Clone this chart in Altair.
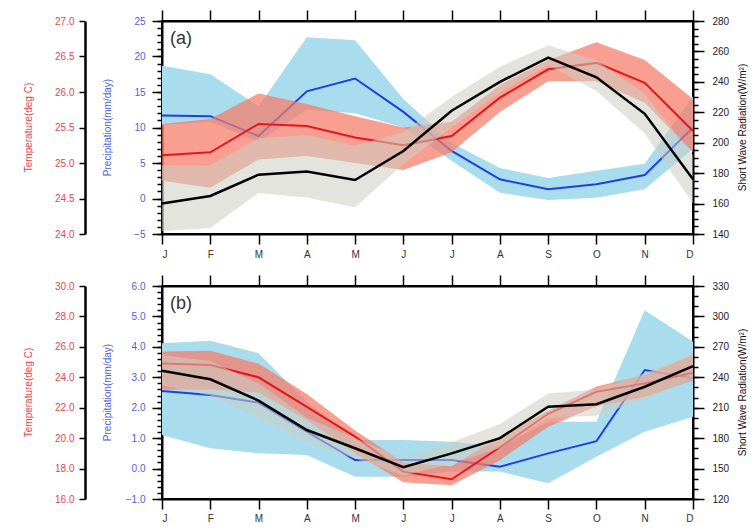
import json
import numpy as np
import pandas as pd
import altair as alt

months = ["Jan", "Feb", "Mar", "Apr", "May", "Jun", "Jul", "Aug", "Sep", "Oct", "Nov", "Dec"]
month_labels = ["J", "F", "M", "A", "M", "J", "J", "A", "S", "O", "N", "D"]

# ---- panel (a) ----
a_precip = [11.7, 11.6, 8.8, 15.1, 16.9, 12.2, 6.7, 2.7, 1.3, 2.0, 3.3, 10.0]
a_precip_hi = [18.7, 17.5, 13.0, 22.7, 22.3, 14.0, 7.8, 4.3, 2.9, 3.9, 4.9, 14.4]
a_precip_lo = [10.3, 10.8, 8.0, 12.5, 12.0, 10.0, 5.3, 0.8, -0.2, 0.1, 1.3, 7.0]
a_temp = [25.11, 25.15, 25.55, 25.52, 25.36, 25.25, 25.38, 25.92, 26.32, 26.41, 26.13, 25.45]
a_temp_hi = [25.55, 25.62, 25.98, 25.83, 25.66, 25.50, 25.58, 26.10, 26.45, 26.70, 26.45, 25.90]
a_temp_lo = [24.75, 24.65, 25.05, 25.10, 25.00, 24.90, 25.15, 25.72, 26.15, 26.15, 25.85, 25.15]
a_sw = [160, 165, 179, 181, 175.5, 194.5, 221, 240, 256, 243, 219, 176]
a_sw_hi = [185, 185, 203, 205, 198, 207, 230, 250, 264, 254, 232, 192]
a_sw_lo = [142, 144, 167, 164, 157.5, 186, 210, 233, 251, 234, 206, 160]

# ---- panel (b) ----
b_precip = [2.55, 2.42, 2.17, 1.21, 0.28, 0.28, 0.28, 0.06, 0.5, 0.9, 3.24, 2.97]
b_precip_hi = [4.12, 4.2, 3.79, 2.2, 0.94, 0.94, 0.88, 0.72, 1.54, 1.54, 5.2, 4.17]
b_precip_lo = [1.1, 0.67, 0.5, 0.45, -0.27, -0.27, -0.1, -0.1, -0.48, 0.39, 1.21, 1.7]
b_temp = [24.9, 24.8, 24.0, 22.06, 20.1, 17.8, 17.3, 19.4, 21.6, 23.05, 23.6, 24.3]
b_temp_hi = [25.7, 25.75, 24.9, 22.9, 20.5, 18.4, 18.15, 20.1, 21.8, 23.4, 24.15, 25.46]
b_temp_lo = [23.2, 23.2, 23.0, 21.2, 19.0, 17.1, 16.9, 18.55, 20.75, 22.1, 22.7, 23.8]
b_sw = [246.5, 238, 217, 188, 170, 151.3, 165, 180, 211, 213.4, 230.7, 251]
b_sw_hi = [262, 256, 234, 200, 180, 160, 176, 194, 224, 228, 244, 264]
b_sw_lo = [232, 222, 200, 176, 160, 143, 155, 170, 200, 202, 218, 238]

FONT = "Liberation Sans"
RED_TXT = "#e2484c"
BLUE_TXT = "#4d5fdc"
label_expr = json.dumps(month_labels) + "[datum.value]"


def steps(lo, hi, step):
    n = int(round((hi - lo) / step))
    return [round(lo + i * step, 4) for i in range(n + 1)]


def make_df(p, phi, plo, t, thi, tlo, s, shi, slo):
    return pd.DataFrame({
        "m": list(range(len(months))), "month": months,
        "precip": p, "precip_hi": phi, "precip_lo": plo,
        "temp": t, "temp_hi": thi, "temp_lo": tlo,
        "sw": s, "sw_hi": shi, "sw_lo": slo,
    })


def panel(df, tag, pr_dom, pr_step, pr_minor, pr_fmt, t_dom, t_step, s_dom, s_step, s_minor, xpad):
    xs = alt.Scale(domain=[0, len(months) - 1], nice=False, zero=False)
    x_bottom = alt.X("m:Q", scale=xs, axis=alt.Axis(
        orient="bottom", values=list(range(len(months))), labelExpr=label_expr,
        tickSize=10, labelPadding=xpad, labelColor="#333333", title=None,
        labelFont=FONT, labelFontSize=10))
    x_top = alt.X("m:Q", scale=xs, axis=alt.Axis(
        orient="top", values=list(range(len(months))), labels=False,
        tickSize=11, title=None))
    x_none = alt.X("m:Q", scale=xs, axis=None)

    base = alt.Chart(df)

    pr_scale = alt.Scale(domain=pr_dom, nice=False, zero=False)
    t_scale = alt.Scale(domain=t_dom, nice=False, zero=False)
    s_scale = alt.Scale(domain=s_dom, nice=False, zero=False)

    blue_band = base.mark_area(color="#a9dcec", opacity=1).encode(
        x=x_bottom,
        y=alt.Y("precip_lo:Q", scale=pr_scale, axis=alt.Axis(
            orient="left", values=steps(pr_dom[0], pr_dom[1], pr_step), format=pr_fmt,
            tickSize=10, labelPadding=7, labelColor=BLUE_TXT,
            title="Precipitation(mm/day)", titleColor=BLUE_TXT,
            titleX=-55, titleY=106, titleBaseline="middle", titleAngle=270)),
        y2="precip_hi:Q")
    blue_line = base.mark_line(color="#1f3fe6", strokeWidth=2).encode(
        x=x_top,
        y=alt.Y("precip:Q", scale=pr_scale, axis=alt.Axis(
            orient="left", values=steps(pr_dom[0], pr_dom[1], pr_minor), labels=False,
            tickSize=5, domain=False, title=None)))
    red_band = base.mark_area(color="#f67a66", opacity=0.72).encode(
        x=x_none,
        y=alt.Y("temp_lo:Q", scale=t_scale, axis=alt.Axis(
            orient="left", offset=77, values=steps(t_dom[0], t_dom[1], t_step), format=".1f",
            tickSize=6, labelPadding=5, labelColor=RED_TXT, domainWidth=2.5,
            title="Temperature(deg C)", titleColor=RED_TXT,
            titleX=-57, titleY=106, titleBaseline="middle", titleAngle=270)),
        y2="temp_hi:Q")
    red_line = base.mark_line(color="#e8141c", strokeWidth=2).encode(
        x=x_none, y=alt.Y("temp:Q", scale=t_scale, axis=None))
    grey_band = base.mark_area(color="#cdcdc2", opacity=0.55).encode(
        x=x_none,
        y=alt.Y("sw_lo:Q", scale=s_scale, axis=alt.Axis(
            orient="right", values=steps(s_dom[0], s_dom[1], s_step), format="d",
            tickSize=11, labelPadding=8, labelColor="#222222",
            title="Short Wave Radiation(W/m\u00b2)", titleColor="#111111",
            titleX=49, titleY=106, titleBaseline="middle", titleAngle=270)),
        y2="sw_hi:Q")
    black_line = base.mark_line(color="#000000", strokeWidth=2.5).encode(
        x=x_none,
        y=alt.Y("sw:Q", scale=s_scale, axis=alt.Axis(
            orient="right", values=steps(s_dom[0], s_dom[1], s_minor), labels=False,
            tickSize=5, domain=False, title=None)))
    tag_text = alt.Chart(pd.DataFrame({"t": [tag]})).mark_text(
        align="left", baseline="middle", fontSize=18, font=FONT, color="#333333").encode(
        text="t:N", x=alt.value(8), y=alt.value(18))

    return alt.layer(blue_band, blue_line, red_band, red_line, grey_band, black_line, tag_text).resolve_scale(
        y="independent").resolve_axis(x="independent", y="independent").properties(width=531, height=213)


df_a = make_df(a_precip, a_precip_hi, a_precip_lo, a_temp, a_temp_hi, a_temp_lo, a_sw, a_sw_hi, a_sw_lo)
df_b = make_df(b_precip, b_precip_hi, b_precip_lo, b_temp, b_temp_hi, b_temp_lo, b_sw, b_sw_hi, b_sw_lo)

pa = panel(df_a, "(a)", [-5, 25], 5, 1, "d", [24, 27], 0.5, [140, 280], 20, 5, 5)
pb = panel(df_b, "(b)", [-1, 6], 1, 0.2, ".1f", [16, 30], 2, [120, 330], 30, 10, 4)

chart = alt.vconcat(pa, pb, spacing=13).properties(
    padding={"left": 14, "top": 0, "right": 0, "bottom": 0},
    background="white",
).configure_view(stroke="#000000", strokeWidth=2).configure_axis(
    labelFont=FONT, labelFontSize=10, titleFont=FONT, titleFontSize=10,
    titleFontWeight="normal", domainColor="#000000", domainWidth=2,
    tickColor="#000000", tickWidth=1.5, grid=False
)

chart.save("out.html", embed_options={"renderer": "svg", "actions": False})
